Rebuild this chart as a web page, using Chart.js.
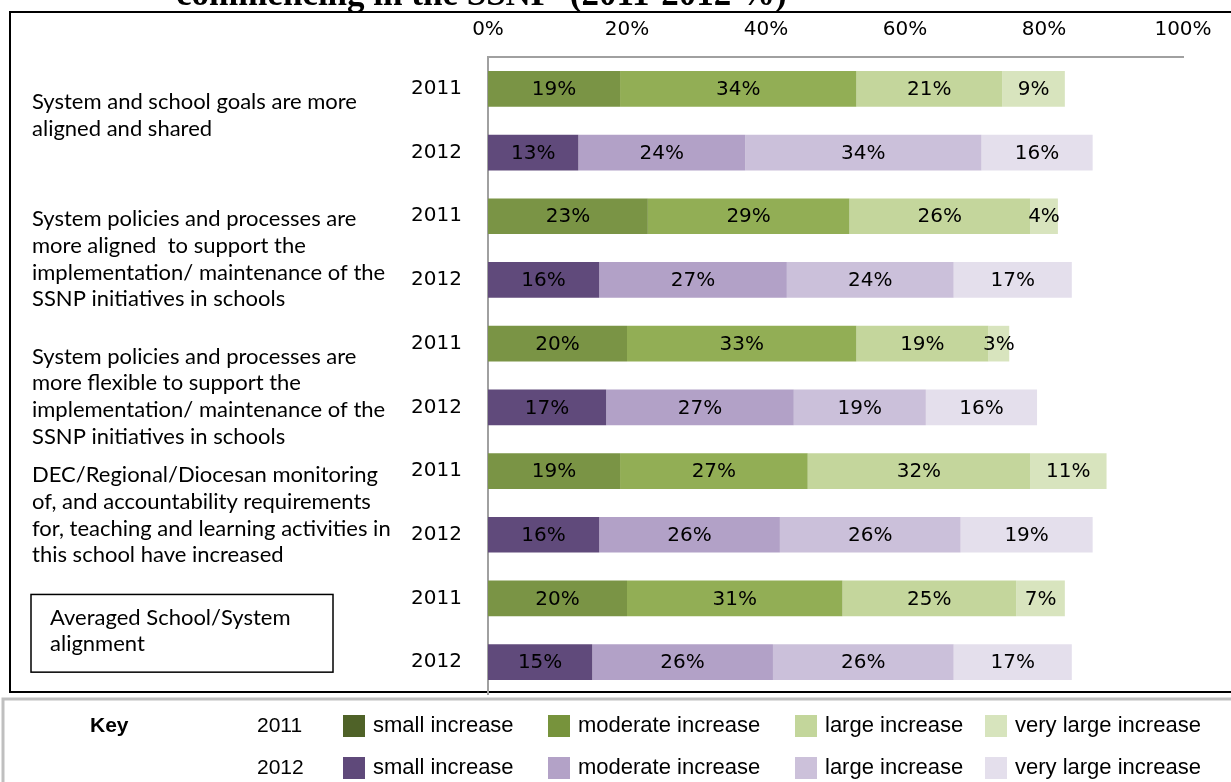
<!DOCTYPE html>
<html>
<head>
<meta charset="utf-8">
<script src="https://cdn.jsdelivr.net/npm/chart.js@4.4.1/dist/chart.umd.min.js"></script>
<style>
html,body{margin:0;padding:0;background:#fff;}
#wrap{width:1231px;height:782px;}
</style>
</head>
<body>
<div id="wrap"><canvas id="chartAlign" width="1231" height="782"></canvas></div>
<script>

/* DATA */

const years = ['2011','2012','2011','2012','2011','2012','2011','2012','2011','2012'];

const statements = [
['System and school goals are more','aligned and shared'],
['System policies and processes are','more aligned  to support the','implementation/ maintenance of the','SSNP initiatives in schools'],
['System policies and processes are','more flexible to support the','implementation/ maintenance of the','SSNP initiatives in schools'],
['DEC/Regional/Diocesan monitoring','of, and accountability requirements','for, teaching and learning activities in','this school have increased'],
['Averaged School/System','alignment']
];

const seriesNames = ['small increase','moderate increase','large increase','very large increase'];

const small     = [19,13,23,16,20,17,19,16,20,15];
const moderate  = [34,24,29,27,33,27,27,26,31,26];
const large     = [21,34,26,24,19,19,32,26,25,26];
const veryLarge = [9,16,4,17,3,16,11,19,7,17];

const xTicks = [0,20,40,60,80,100];

const titleText = 'commencing in the SSNP  (2011-2012 %)';

/* COLOURS */

const barGreen  = ['#7a9445','#92ae55','#c4d69c','#d8e4be'];
const barPurple = ['#604a7b','#b2a1c7','#cbc0da','#e4dfec'];
const keyGreen  = ['#4f6228','#77933c','#c3d69b','#d7e4bd'];
const keyPurple = ['#5f497a','#b3a2c7','#ccc1da','#e4dfec'];

/* DATASETS */

let datasets = [];

[small,moderate,large,veryLarge].forEach((values,s)=>{

datasets.push({
label:seriesNames[s],
data:values,
backgroundColor:values.map((v,i)=> i%2===0 ? barGreen[s] : barPurple[s]),
borderWidth:0,
barPercentage:0.56,
categoryPercentage:1
});

});

/* PLUGINS */

// page frame, title and the key under the chart
const framePlugin = {
id:'frame',
beforeDraw(chart){
const ctx = chart.ctx;
ctx.save();
ctx.fillStyle = '#fff';
ctx.fillRect(0,0,chart.width,chart.height);

ctx.fillStyle = '#000';
ctx.font = 'bold 35px "Liberation Serif"';
ctx.textBaseline = 'alphabetic';
ctx.textAlign = 'left';
ctx.fillText(titleText,176,5);

ctx.strokeStyle = '#000';
ctx.lineWidth = 2;
ctx.strokeRect(10,12,1240,680);

ctx.strokeStyle = '#bfbfbf';
ctx.lineWidth = 3;
ctx.strokeRect(3,699,1240,100);

const rows = [{y:726,year:'2011',cols:keyGreen},{y:768,year:'2012',cols:keyPurple}];
const swX = [343,548,795,985];

ctx.textBaseline = 'middle';
ctx.fillStyle = '#000';
ctx.font = 'bold 21px "Liberation Sans"';
ctx.fillText('Key',90,726);

rows.forEach(r=>{
ctx.font = '21px "Liberation Sans"';
ctx.fillStyle = '#000';
ctx.fillText(r.year,257,r.y);
ctx.font = '22px "Liberation Sans"';
swX.forEach((x,s)=>{
ctx.fillStyle = r.cols[s];
ctx.fillRect(x,r.y-11,22,22);
ctx.fillStyle = '#000';
ctx.fillText(seriesNames[s],x+30,r.y);
});
});

ctx.restore();
}
};

// statement text to the left of each pair of bars
const statementPlugin = {
id:'statements',
afterDraw(chart){
const ctx = chart.ctx;
const yScale = chart.scales.y;
const lineH = 26.7;
const firstLine = [13,3,13,4,19];
ctx.save();
ctx.font = '22px Lato';
ctx.fillStyle = '#000';
ctx.textAlign = 'left';
ctx.textBaseline = 'middle';
statements.forEach((lines,g)=>{
const y0 = yScale.getPixelForValue(g*2);
const x0 = g===4 ? 50 : 32;
lines.forEach((t,k)=>{
ctx.fillText(t,x0,y0+firstLine[g]+k*lineH);
});
if(g===4){
const y1 = yScale.getPixelForValue(g*2+1);
ctx.strokeStyle = '#000';
ctx.lineWidth = 1.5;
ctx.strokeRect(31,y0-4,302,y1-y0+14);
}
});
ctx.restore();
}
};

// value labels in the middle of each segment
const valuePlugin = {
id:'values',
afterDatasetsDraw(chart){
const ctx = chart.ctx;
ctx.save();
ctx.font = '20px "DejaVu Sans"';
ctx.fillStyle = '#000';
ctx.textAlign = 'center';
ctx.textBaseline = 'middle';
chart.data.datasets.forEach((ds,d)=>{
chart.getDatasetMeta(d).data.forEach((bar,i)=>{
ctx.fillText(ds.data[i]+'%',(bar.x+bar.base)/2,bar.y+1);
});
});
ctx.restore();
}
};

/* GRAPH */

new Chart(document.getElementById('chartAlign'),{

type:'bar',

data:{
labels:years,
datasets:datasets
},

options:{
indexAxis:'y',
responsive:false,
animation:false,
devicePixelRatio:1,
layout:{padding:{left:0,top:0,right:48,bottom:88}},

plugins:{
legend:{display:false},
tooltip:{enabled:false}
},

scales:{
x:{
position:'top',
stacked:true,
min:0,
max:100,
afterBuildTicks:s=>{ s.ticks = xTicks.map(v=>({value:v})); },
afterFit:s=>{ s.height = 57; },
ticks:{
callback:v=>v+'%',
color:'#000',
font:{family:'DejaVu Sans',size:20},
padding:15,
maxRotation:0
},
grid:{display:false,drawTicks:false},
border:{display:true,color:'#a0a0a0',width:2}
},
y:{
stacked:true,
afterFit:s=>{ s.width = 488; },
ticks:{
color:'#000',
font:{family:'DejaVu Sans',size:20},
padding:26
},
grid:{display:false,drawTicks:false},
border:{display:true,color:'#a0a0a0',width:2}
}
}

},

plugins:[framePlugin,statementPlugin,valuePlugin]

});

</script>
</body>
</html>
